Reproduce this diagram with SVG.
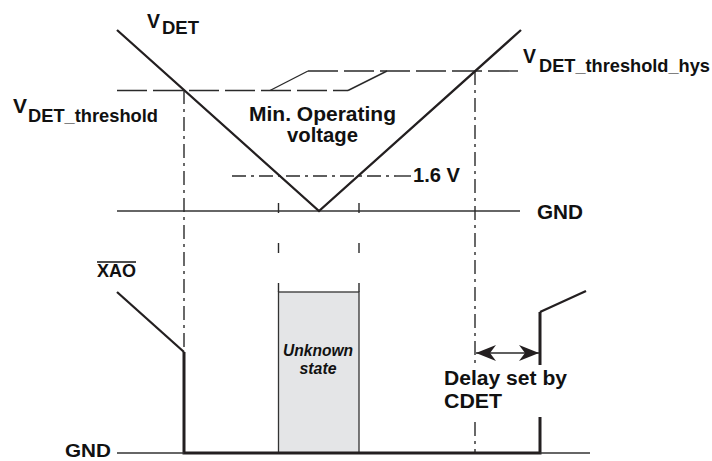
<svg xmlns="http://www.w3.org/2000/svg" width="712" height="461" viewBox="0 0 712 461">
<style>
text{font-family:"Liberation Sans",Arial,sans-serif;font-weight:bold;fill:#111}
.sig{fill:none;stroke:#231f20;stroke-width:2.3;stroke-linecap:butt}
.thick{fill:none;stroke:#231f20;stroke-width:3}
.gnd{fill:none;stroke:#333;stroke-width:1.6}
.dash{fill:none;stroke:#2a2a2a;stroke-width:1.4;stroke-dasharray:30 6}
.dd{fill:none;stroke:#2a2a2a;stroke-width:1.4;stroke-dasharray:14 5 3 5}
.tick{fill:none;stroke:#2a2a2a;stroke-width:1.4;stroke-dasharray:10 30}
.thin{fill:none;stroke:#2a2a2a;stroke-width:1.4}
</style>
<defs>
<marker id="ah" markerUnits="userSpaceOnUse" markerWidth="22" markerHeight="20" refX="0" refY="0" viewBox="-21 -10 22 20" orient="auto-start-reverse">
<path d="M0,0 L-20,-8 L-14,0 L-20,8 Z" fill="#231f20"/>
</marker>
</defs>
<rect width="712" height="461" fill="#fff"/>

<g id="connectors">
<path class="dash" d="M117,90.5 H348"/>
<path class="dash" d="M308,71 H520"/>
<path class="thin" d="M270,90.5 L308,71"/>
<path class="thin" d="M348,90.5 L387,71"/>
<path class="dd" d="M232,176 H396"/>
<path class="thin" d="M396,176 H411"/>
<path class="gnd" d="M117,211 H520"/>
<path class="tick" d="M278.5,203 V292"/>
<path class="tick" d="M359,203 V292"/>
<path class="dd" d="M184,90 V352"/>
<path class="dd" d="M475,71 V453"/>
<path class="sig" d="M117,30 L319,211 L521,30"/>
</g>

<g id="unknown-box">
<rect x="278.5" y="292" width="80.5" height="161" fill="#e4e5e7" stroke="#333" stroke-width="1.3"/>
<text x="318" y="356" font-size="16" font-style="italic" text-anchor="middle" textLength="70" lengthAdjust="spacingAndGlyphs">Unknown</text>
<text x="318" y="374" font-size="16" font-style="italic" text-anchor="middle" textLength="37" lengthAdjust="spacingAndGlyphs">state</text>
</g>

<g id="xao-signal">
<path class="sig" d="M117,292 L184,352"/>
<path class="thick" d="M184,352 V453 H540 V312"/>
<path class="sig" d="M540,312 L586,291"/>
<path class="gnd" d="M117,453 H184"/>
<path class="gnd" d="M540,453 H590"/>
</g>

<g id="delay">
<path class="thin" d="M476,353 H539" stroke-width="1.6" marker-start="url(#ah)" marker-end="url(#ah)"/>
<rect x="440" y="365" width="132" height="52" fill="#fff"/>
<text x="444" y="385" font-size="20" textLength="123" lengthAdjust="spacingAndGlyphs">Delay set by</text>
<text x="444" y="408" font-size="20" textLength="58" lengthAdjust="spacingAndGlyphs">CDET</text>
</g>

<g id="labels">
<g id="vdet">
<text x="147" y="28" font-size="21" textLength="13" lengthAdjust="spacingAndGlyphs">V</text>
<text x="162" y="34" font-size="18" textLength="37" lengthAdjust="spacingAndGlyphs">DET</text>
</g>
<g id="vdet-threshold">
<text x="13" y="113" font-size="20" textLength="14" lengthAdjust="spacingAndGlyphs">V</text>
<text x="28" y="122" font-size="18.5" textLength="130" lengthAdjust="spacingAndGlyphs">DET_threshold</text>
</g>
<g id="vdet-threshold-hys">
<text x="523" y="63" font-size="21" textLength="13" lengthAdjust="spacingAndGlyphs">V</text>
<text x="539" y="72" font-size="18.5" textLength="171" lengthAdjust="spacingAndGlyphs">DET_threshold_hys</text>
</g>
<g id="min-op">
<text x="322.5" y="121" font-size="19.5" text-anchor="middle" textLength="147" lengthAdjust="spacingAndGlyphs">Min. Operating</text>
<text x="322.5" y="142" font-size="19.5" text-anchor="middle" textLength="71" lengthAdjust="spacingAndGlyphs">voltage</text>
</g>
<text id="v16" x="413" y="182" font-size="20" textLength="47" lengthAdjust="spacingAndGlyphs">1.6 V</text>
<text id="gnd-top" x="537" y="219" font-size="20" textLength="46" lengthAdjust="spacingAndGlyphs">GND</text>
<g id="xao">
<text x="97" y="277" font-size="18" textLength="39" lengthAdjust="spacingAndGlyphs">XAO</text>
<path d="M97,262 H136" stroke="#111" stroke-width="1.5"/>
</g>
<text id="gnd-bottom" x="65" y="457" font-size="18.5" textLength="46" lengthAdjust="spacingAndGlyphs">GND</text>
</g>
</svg>
